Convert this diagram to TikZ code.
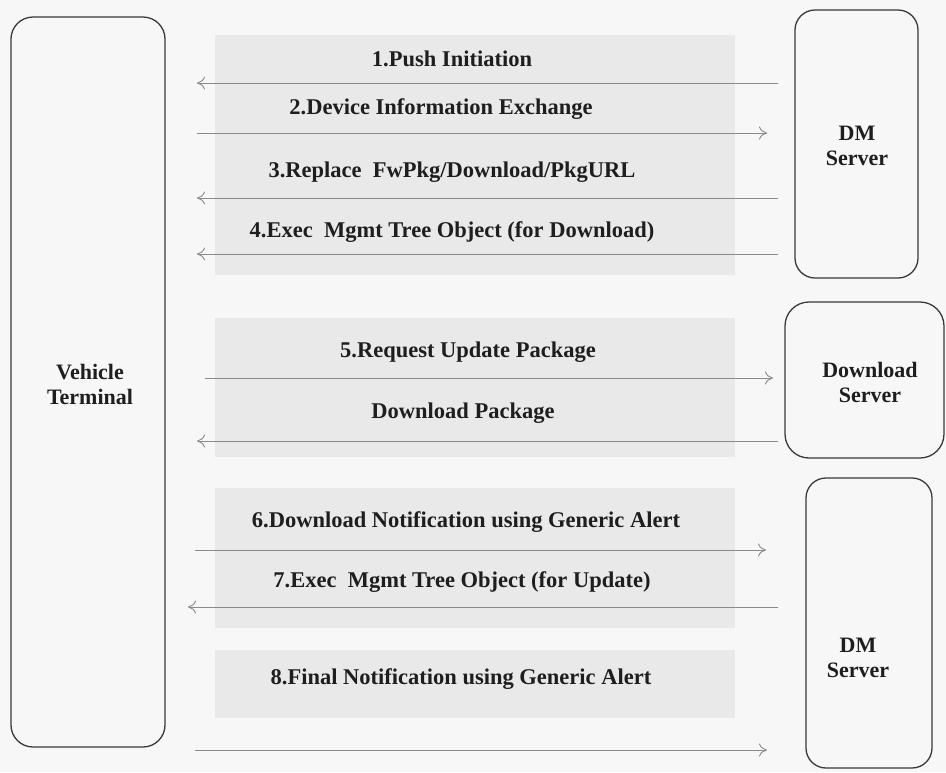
\documentclass[tikz,border=0pt]{standalone}
\usepackage{fontspec}
\setmainfont{Liberation Serif}
\usetikzlibrary{arrows.meta}
\definecolor{paper}{HTML}{F7F7F7}
\definecolor{band}{HTML}{E9E9E9}
\definecolor{ink}{HTML}{1E1E1E}
\definecolor{wire}{HTML}{8A8A8A}
\definecolor{frame}{HTML}{3A3A3A}
\tikzset{
  entity/.style={draw=frame, line width=1.3pt, fill=paper, inner sep=0pt},
  entitytext/.style={text=ink, font=\fontsize{22}{25}\selectfont\bfseries, align=center, inner sep=0pt},
  msg/.style={text=ink, font=\fontsize{22.5}{25}\selectfont\bfseries, inner sep=0pt, anchor=base},
  wirearrow/.style={draw=wire, line width=0.9pt, -{To[length=8pt,width=13pt,line width=0.9pt]}},
  shade/.style={fill=band, draw=none}
}
\begin{document}
\begin{tikzpicture}[x=1pt,y=-1pt]
  % page
  \fill[paper] (0,0) rectangle (946,772);
  \useasboundingbox (0,0) rectangle (946,772);

  % message groups
  \fill[shade] (215,35)  rectangle (735,275);
  \fill[shade] (215,318) rectangle (735,457);
  \fill[shade] (215,488) rectangle (735,628);
  \fill[shade] (215,650) rectangle (735,718);

  % participants
  \node[entity, rounded corners=22pt, minimum width=154pt, minimum height=730pt] (vt) at (88,382) {};
  \node[entity, rounded corners=20pt, minimum width=123pt, minimum height=268pt] (dm1) at (856.5,144) {};
  \node[entity, rounded corners=24pt, minimum width=159pt, minimum height=156pt] (dl) at (864.5,380) {};
  \node[entity, rounded corners=20pt, minimum width=126pt, minimum height=290pt] (dm2) at (869,623) {};

  \node[entitytext] (vtt)  at (90,384)  {Vehicle\\Terminal};
  \node[entitytext] (dm1t) at (857,146) {DM\\Server};
  \node[entitytext] (dlt)  at (870,382) {Download\\Server};
  \node[entitytext] (dm2t) at (858,658) {DM\\Server};

  % arrow end points
  \coordinate (a1s) at (778,83);  \coordinate (a1e) at (197,83);
  \coordinate (a2s) at (197,133); \coordinate (a2e) at (767,133);
  \coordinate (a3s) at (778,198); \coordinate (a3e) at (197,198);
  \coordinate (a4s) at (778,254); \coordinate (a4e) at (197,254);
  \coordinate (a5s) at (205,378); \coordinate (a5e) at (773,378);
  \coordinate (a6s) at (778,441); \coordinate (a6e) at (197,441);
  \coordinate (a7s) at (195,550); \coordinate (a7e) at (766,550);
  \coordinate (a8s) at (778,607); \coordinate (a8e) at (188,607);
  \coordinate (a9s) at (195,750); \coordinate (a9e) at (767,750);

  % messages
  \draw[wirearrow] (a1s) -- (a1e);
  \draw[wirearrow] (a2s) -- (a2e);
  \draw[wirearrow] (a3s) -- (a3e);
  \draw[wirearrow] (a4s) -- (a4e);
  \draw[wirearrow] (a5s) -- (a5e);
  \draw[wirearrow] (a6s) -- (a6e);
  \draw[wirearrow] (a7s) -- (a7e);
  \draw[wirearrow] (a8s) -- (a8e);
  \draw[wirearrow] (a9s) -- (a9e);

  % labels
  \node[msg] (l1) at (452,66)  {1.Push Initiation};
  \node[msg] (l2) at (441,114) {2.Device Information Exchange};
  \node[msg] (l3) at (452,177) {3.Replace\ \ FwPkg/Download/PkgURL};
  \node[msg] (l4) at (452,237) {4.Exec\ \ Mgmt Tree Object (for Download)};
  \node[msg] (l5) at (468,357) {5.Request Update Package};
  \node[msg] (l6) at (463,418) {Download Package};
  \node[msg] (l7) at (466,527) {6.Download Notification using Generic Alert};
  \node[msg] (l8) at (462,587) {7.Exec\ \ Mgmt Tree Object (for Update)};
  \node[msg] (l9) at (461,684) {8.Final Notification using Generic Alert};
\end{tikzpicture}
\end{document}
